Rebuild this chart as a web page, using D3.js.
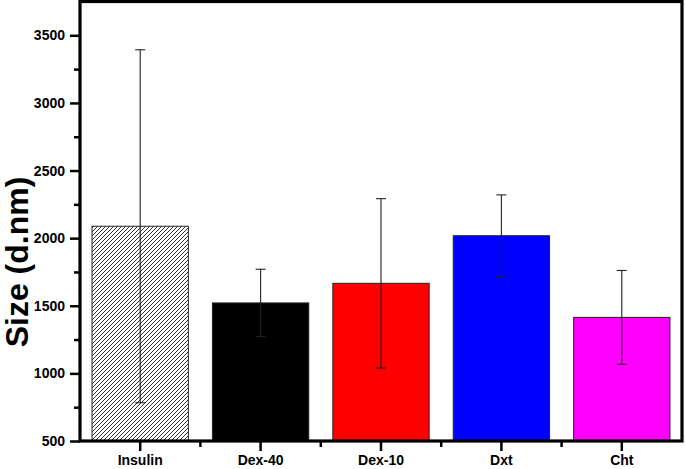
<!DOCTYPE html>
<html>
<head>
<meta charset="utf-8">
<script src="https://cdn.jsdelivr.net/npm/d3@7"></script>
<style>
  html, body { margin: 0; padding: 0; background: #fff; }
  svg { display: block; font-family: "Liberation Sans", Arial, sans-serif; }
</style>
</head>
<body>
<svg id="chart" width="685" height="469"></svg>
<script>
const categories = ["Insulin", "Dex-40", "Dex-10", "Dxt", "Cht"];
const sizes = [2088, 1521, 1666, 2018, 1414];
const errors = [1305, 249, 626, 302, 347];
const yTicks = [500, 1000, 1500, 2000, 2500, 3000, 3500];
const yMinorTicks = [750, 1250, 1750, 2250, 2750, 3250];
const fills = ["hatch", "#000000", "#ff0000", "#0000ff", "#ff00ff"];

const svg = d3.select("#chart");
const mLeft = 80, mRight = 682, mTop = 1.5, mBottom = 441;

const x = d3.scaleBand().domain(categories).range([mLeft, mRight])
  .paddingInner(0.2).paddingOuter(0.1);
const y = d3.scaleLinear().domain([500, 3750]).range([mBottom, mTop]);

const defs = svg.append("defs");
const pat = defs.append("pattern").attr("id", "hatch")
  .attr("patternUnits", "userSpaceOnUse").attr("width", 4).attr("height", 4);
pat.append("rect").attr("width", 4).attr("height", 4).attr("fill", "#fff");
pat.append("path").attr("d", "M-1,1 l2,-2 M0,4 l4,-4 M3,5 l2,-2")
  .attr("stroke", "#333").attr("stroke-width", 1);

// bars
svg.append("g").selectAll("rect").data(categories).join("rect")
  .attr("x", d => x(d))
  .attr("y", (d, i) => y(sizes[i]))
  .attr("width", x.bandwidth())
  .attr("height", (d, i) => y(500) - y(sizes[i]))
  .attr("fill", (d, i) => fills[i] === "hatch" ? "url(#hatch)" : fills[i])
  .attr("stroke", "#222").attr("stroke-width", 1);

// error bars
const eg = svg.append("g").attr("stroke", "#222").attr("stroke-width", 1.1);
categories.forEach((c, i) => {
  const cx = x(c) + x.bandwidth() / 2;
  const hi = y(sizes[i] + errors[i]), lo = y(sizes[i] - errors[i]);
  eg.append("line").attr("x1", cx).attr("x2", cx).attr("y1", hi).attr("y2", lo);
  eg.append("line").attr("x1", cx - 5).attr("x2", cx + 5).attr("y1", hi).attr("y2", hi);
  eg.append("line").attr("x1", cx - 5).attr("x2", cx + 5).attr("y1", lo).attr("y2", lo);
});

// y axis
const yAxis = svg.append("g").attr("transform", `translate(${mLeft},0)`)
  .call(d3.axisLeft(y).tickValues(yTicks).tickFormat(d3.format("d"))
    .tickSize(10).tickSizeOuter(0).tickPadding(5));
yAxis.select(".domain").remove();
yAxis.selectAll(".tick line").attr("stroke", "#000").attr("stroke-width", 2.5);
yAxis.selectAll("text").attr("font-size", 14).attr("font-weight", "bold").attr("fill", "#000");

const yMinor = svg.append("g").attr("transform", `translate(${mLeft},0)`)
  .call(d3.axisLeft(y).tickValues(yMinorTicks).tickSize(6).tickSizeOuter(0).tickFormat(""));
yMinor.select(".domain").remove();
yMinor.selectAll(".tick line").attr("stroke", "#000").attr("stroke-width", 2.5);

// x axis
const xAxis = svg.append("g").attr("transform", `translate(0,${mBottom})`)
  .call(d3.axisBottom(x).tickSize(10).tickSizeOuter(0).tickPadding(4));
xAxis.select(".domain").remove();
xAxis.selectAll(".tick line").attr("stroke", "#000").attr("stroke-width", 2.5);
xAxis.selectAll("text").attr("font-size", 14).attr("font-weight", "bold").attr("fill", "#000");

const bounds = categories.slice(1).map(c => x(c) - x.step() * x.paddingInner() / 2);
svg.append("g").selectAll("line").data(bounds).join("line")
  .attr("x1", d => d).attr("x2", d => d)
  .attr("y1", mBottom).attr("y2", mBottom + 6)
  .attr("stroke", "#000").attr("stroke-width", 2.5);

// frame
svg.append("rect").attr("x", mLeft).attr("y", mTop)
  .attr("width", mRight - mLeft).attr("height", mBottom - mTop)
  .attr("fill", "none").attr("stroke", "#000").attr("stroke-width", 3.2);

// y label
svg.append("text")
  .attr("transform", `translate(28,262) rotate(-90)`)
  .attr("text-anchor", "middle")
  .attr("font-size", 32).attr("font-weight", "bold").attr("fill", "#000")
  .text("Size (d.nm)");
</script>
</body>
</html>
